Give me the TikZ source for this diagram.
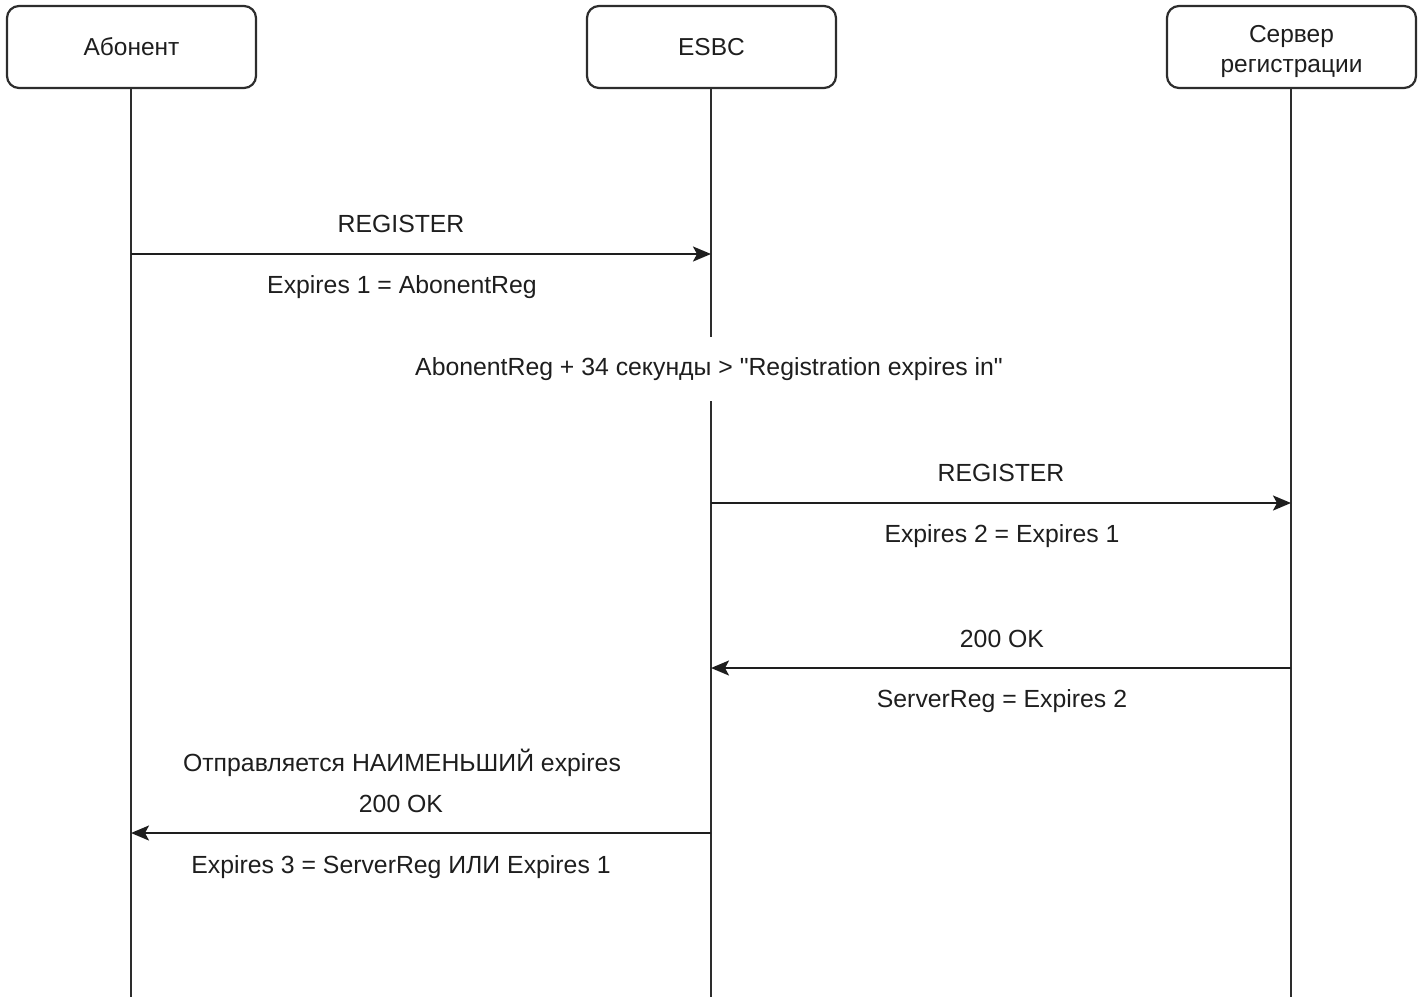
\documentclass[tikz,border=0pt]{standalone}
\usepackage{fontspec}
\setmainfont{Liberation Sans}
\newfontfamily\quotefont{Liberation Sans}
\newcommand{\sq}{{\quotefont\symbol{34}}}
\newcommand{\lowr}[1]{\raisebox{-4pt}[\height][\depth]{#1}}
\usetikzlibrary{arrows.meta}
\definecolor{ink}{RGB}{30,30,30}
\definecolor{edge}{RGB}{45,45,45}
\tikzset{
  actor/.style={draw=edge, line width=2.2pt, rounded corners=12pt, minimum width=249pt, minimum height=82pt, align=center, text=ink, font=\fontsize{24.5}{30}\selectfont, inner sep=0pt},
  lifeline/.style={draw=edge, line width=2.2pt},
  msg/.style={draw=ink, line width=2.2pt, -{Stealth[length=18pt,width=15pt,inset=4pt]}},
  lbl/.style={text=ink, font=\fontsize{24.8}{30}\selectfont, inner sep=0pt, anchor=center},
}
\begin{document}
\begin{tikzpicture}[x=1pt,y=-1pt]
\useasboundingbox (0,0) rectangle (1422,997);
% actors
\node[actor] (ab) at (131.5,47) {Абонент};
\node[actor] (esbc) at (711.5,47) {ESBC};
\node[actor] (srv) at (1291.5,47) {\lowr{Сервер}\\\lowr{регистрации}};
% lifeline ends
\coordinate (abEnd) at (131,997);
\coordinate (esEnd) at (711,997);
\coordinate (svEnd) at (1291,997);
\draw[lifeline] (ab.south -| abEnd) -- (abEnd);
\draw[lifeline] (esbc.south -| esEnd) -- (esEnd);
\draw[lifeline] (srv.south -| svEnd) -- (svEnd);
% message anchor points
\coordinate (m1s) at (131,254); \coordinate (m1e) at (711,254);
\coordinate (m2s) at (711,503); \coordinate (m2e) at (1291,503);
\coordinate (m3s) at (1291,668); \coordinate (m3e) at (711,668);
\coordinate (m4s) at (711,833); \coordinate (m4e) at (131,833);
% note over ESBC lifeline
\node[lbl, fill=white, minimum height=64pt, inner xsep=2pt] (note) at (709,369) {AbonentReg + 34 секунды > \sq Registration expires in\sq};
% messages
\draw[msg] (m1s) -- (m1e);
\node[lbl] (l1a) at (401,224) {REGISTER};
\node[lbl] (l1b) at (402,287) {Expires 1 = AbonentReg};
\draw[msg] (m2s) -- (m2e);
\node[lbl] (l2a) at (1001,473) {REGISTER};
\node[lbl] (l2b) at (1002,536) {Expires 2 = Expires 1};
\draw[msg] (m3s) -- (m3e);
\node[lbl] (l3a) at (1002,639) {200 OK};
\node[lbl] (l3b) at (1002,701) {ServerReg = Expires 2};
\draw[msg] (m4s) -- (m4e);
\node[lbl] (l4a) at (402,763) {Отправляется НАИМЕНЬШИЙ expires};
\node[lbl] (l4b) at (401,804) {200 OK};
\node[lbl] (l4c) at (401,867) {Expires 3 = ServerReg ИЛИ Expires 1};
\end{tikzpicture}
\end{document}
